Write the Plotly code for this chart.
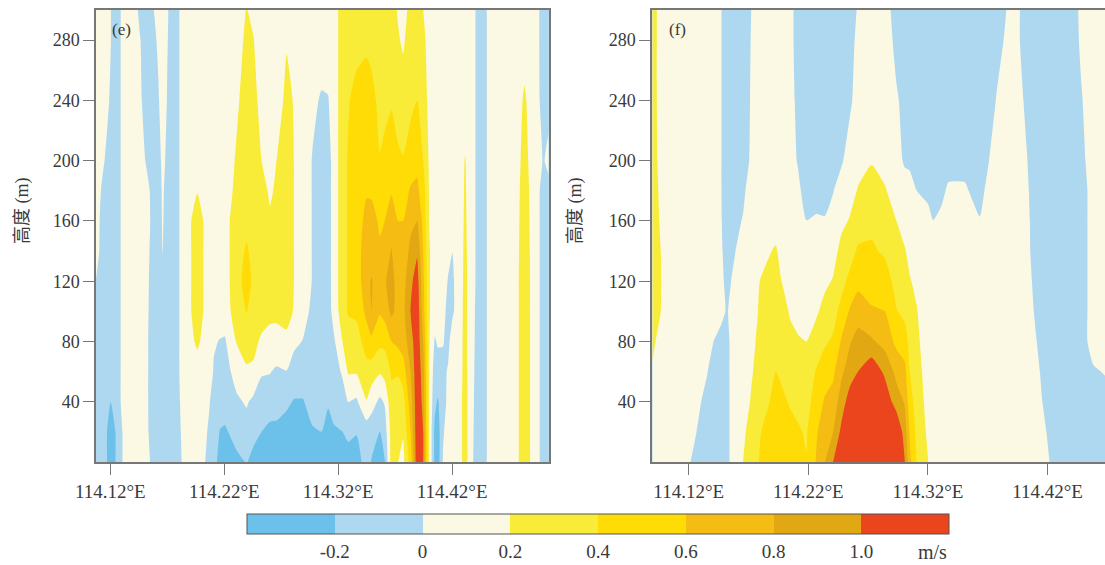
import plotly.graph_objects as go

heights = [0, 20, 40, 60, 80, 100, 120, 140, 160, 180, 200, 240, 280, 300]

lon_e = [114.1074, 114.1139, 114.1203, 114.1244, 114.1337, 114.1402, 114.1460, 114.1519, 114.1577, 114.1621,
         114.1659, 114.1700, 114.1753, 114.1858, 114.1963, 114.2068, 114.2109, 114.2162, 114.2206, 114.2308,
         114.2396, 114.2454, 114.2528, 114.2601, 114.2659, 114.2747, 114.2811, 114.2893, 114.2975, 114.3054,
         114.3112, 114.3162, 114.3238, 114.3288, 114.3361, 114.3449, 114.3492, 114.3566, 114.3609, 114.3668,
         114.3726, 114.3770, 114.3835, 114.3893, 114.3946, 114.3998, 114.4048, 114.4074, 114.4121, 114.4165,
         114.4203, 114.4261, 114.4314, 114.4367, 114.4443, 114.4566, 114.4735, 114.4835, 114.4934, 114.5004, 114.5051]

# one list per longitude, bottom to top
w_e = [
 [-.1,-.1,-.1,-.1,-.1,-.08,-.005,.08,.1,.1,.1,.1,.1,.1],
 [-.1,-.1,-.1,-.1,-.1,-.1,-.1,-.1,-.1,-.05,.02,.08,.1,.1],
 [-.3,-.3,-.2,-.1,-.1,-.1,-.1,-.1,-.1,-.1,-.1,-.02,.005,.005],
 [-.2,-.2,-.1,-.1,-.1,-.1,-.1,-.1,-.1,-.1,-.1,-.1,-.1,-.1],
 [.1,.1,.1,.1,.1,.1,.1,.1,.1,.1,.1,.1,.1,.1],
 [.1,.1,.1,.1,.1,.1,.1,.1,.1,.1,.1,.1,.1,.1],
 [.08,.08,.08,.08,.08,.08,.08,.08,.08,.08,.08,.04,.01,-.05],
 [.05,.04,.03,.03,.03,.04,.05,.06,.06,.05,-.02,-.1,-.1,-.1],
 [-.05,-.1,-.1,-.1,-.1,-.1,-.1,-.08,-.05,-.06,-.08,-.1,-.05,-.01],
 [-.1,-.1,-.1,-.1,-.1,-.1,-.1,-.1,-.1,-.1,-.1,-.02,.03,.08],
 [-.1,-.1,-.1,-.1,-.1,-.1,-.05,.005,.02,.03,.06,.1,.1,.1],
 [-.1,-.1,-.1,-.1,-.1,-.1,-.1,-.1,-.1,-.08,-.05,-.01,.01,.02],
 [-.1,-.1,-.1,-.1,-.1,-.1,-.1,-.1,-.1,-.1,-.1,-.1,-.1,-.1],
 [.045,.06,.08,.1,.1,.1,.1,.1,.1,.1,.1,.1,.1,.1],
 [.1,.1,.1,.12,.23,.3,.3,.3,.3,.19,.12,.1,.1,.1],
 [-.05,-.02,.01,.1,.1,.1,.1,.1,.1,.1,.1,.1,.1,.1],
 [-.15,-.1,-.05,-.02,.02,.1,.1,.1,.1,.1,.1,.1,.1,.1],
 [-.25,-.21,-.1,-.08,-.01,.1,.1,.1,.1,.1,.1,.1,.1,.1],
 [-.3,-.23,-.1,-.07,-.02,.1,.13,.13,.13,.1,.1,.1,.1,.1],
 [-.25,-.12,-.03,.07,.21,.3,.3,.3,.3,.25,.22,.17,.12,.1],
 [-.19,-.08,.02,.18,.26,.41,.5,.43,.33,.3,.3,.28,.24,.21],
 [-.25,-.15,-.04,.17,.25,.3,.36,.33,.28,.3,.3,.25,.21,.15],
 [-.3,-.2,-.1,.02,.17,.28,.3,.28,.27,.25,.2,.15,.1,.1],
 [-.3,-.24,-.12,.01,.16,.23,.27,.26,.22,.18,.12,.1,.1,.1],
 [-.3,-.23,-.15,-.03,.14,.24,.27,.27,.25,.22,.2,.1,.1,.1],
 [-.3,-.27,-.17,-.005,.16,.26,.3,.3,.3,.28,.28,.25,.185,.1],
 [-.3,-.27,-.21,-.1,.05,.19,.2,.2,.2,.2,.2,.19,.1,.1],
 [-.3,-.28,-.21,-.1,-.01,.08,.1,.1,.1,.1,.1,.1,.1,.1],
 [-.27,-.22,-.12,-.1,-.1,-.05,-.01,-.01,-.01,-.01,-.01,.04,.1,.1],
 [-.3,-.2,-.12,-.1,-.1,-.1,-.1,-.1,-.1,-.1,-.1,-.02,.1,.1],
 [-.3,-.27,-.18,-.1,-.1,-.1,-.1,-.1,-.1,-.1,-.1,-.01,.1,.1],
 [-.3,-.22,-.14,-.1,-.03,.08,.1,.1,.1,.1,.1,.1,.1,.1],
 [-.3,-.2,-.1,.03,.2,.3,.3,.3,.3,.3,.3,.3,.3,.3],
 [-.3,-.15,0.005,.22,.3,.42,.42,.42,.42,.42,.42,.38,.35,.33],
 [-.28,-.19,-.03,.22,.3,.45,.5,.5,.5,.5,.5,.48,.32,.3],
 [-.12,-.12,.19,.32,.5,.65,.72,.72,.66,.58,.52,.5,.36,.3],
 [-.21,-.12,.08,.3,.55,.8,.82,.7,.65,.58,.52,.48,.32,.3],
 [-.3,-.2,-.04,.22,.45,.62,.65,.62,.58,.45,.41,.33,.3,.3],
 [-.21,-.1,.02,.28,.45,.68,.78,.7,.6,.55,.45,.35,.3,.3],
 [.3,.28,.35,.42,.6,.85,.88,.81,.72,.58,.5,.38,.3,.28],
 [.2,.25,.3,.42,.65,.72,.7,.65,.6,.52,.44,.3,.22,.18],
 [.14,.22,.32,.5,.7,.75,.72,.66,.6,.52,.41,.3,.17,.1],
 [.5,.6,.7,.8,.9,1.0,.95,.85,.75,.62,.5,.35,.3,.28],
 [1.15,1.15,1.15,1.15,1.15,1.15,1.1,.97,.8,.64,.55,.4,.35,.32],
 [1.0,1.0,.95,.9,.8,.7,.65,.6,.55,.5,.4,.3,.25,.2],
 [.2,.2,.2,.21,.22,.22,.22,.22,.2,.19,.18,.15,.12,.1],
 [-.25,-.25,-.15,-.1,-.02,.1,.1,.1,.1,.1,.1,.1,.1,.1],
 [-.3,-.3,-.22,-.08,.02,.08,.1,.1,.1,.1,.1,.1,.1,.1],
 [.02,-.02,-.08,-.05,.01,.05,.07,.1,.1,.1,.1,.1,.1,.1],
 [.1,.08,.05,.02,-.05,-.05,-.01,.05,.1,.1,.1,.1,.1,.1],
 [.1,.1,.1,.1,.1,-.03,-.03,.002,.1,.1,.1,.1,.1,.1],
 [.1,.1,.1,.1,.1,.1,.1,.1,.1,.1,.1,.1,.1,.1],
 [.3,.3,.3,.28,.27,.26,.25,.24,.23,.22,.21,.1,.1,.1],
 [.03,.04,.05,.06,.07,.08,.1,.1,.1,.1,.1,.1,.1,.1],
 [-.1,-.1,-.1,-.1,-.1,-.1,-.1,-.1,-.1,-.1,-.1,-.1,-.1,-.1],
 [.1,.1,.1,.1,.1,.1,.1,.1,.1,.1,.1,.1,.1,.1],
 [.1,.1,.1,.1,.1,.1,.1,.1,.1,.1,.1,.1,.1,.1],
 [.3,.3,.3,.3,.3,.3,.3,.29,.28,.27,.25,.22,.14,.1],
 [.1,.1,.1,.1,.1,.1,.1,.1,.1,.1,.1,.1,.08,.08],
 [-.1,-.1,-.1,-.1,-.1,-.1,-.1,-.1,-.1,-.1,-.02,-.1,-.1,-.1],
 [-.1,-.1,-.1,-.1,-.1,-.1,-.1,-.1,-.1,-.1,.1,-.1,-.1,-.1],
]

lon_f = [114.0896, 114.0971, 114.1069, 114.1194, 114.1264, 114.1353, 114.1417, 114.1473, 114.1518, 114.1585, 114.1654,
         114.1724, 114.1794, 114.1928, 114.1989, 114.2045, 114.2115, 114.2184, 114.2268, 114.2338, 114.2407,
         114.2477, 114.2547, 114.2616, 114.2728, 114.2839, 114.2937, 114.3007, 114.3048, 114.3104, 114.3202,
         114.3244, 114.3313, 114.3369, 114.3509, 114.3634, 114.3704, 114.3773, 114.3857, 114.3913, 114.4024,
         114.4108, 114.4192, 114.4275, 114.4387, 114.4484, 114.4582, 114.4688]

w_f = [
 [.1,.1,.12,.18,.24,.35,.35,.35,.3,.3,.3,.3,.3,.3],
 [.1,.1,.1,.1,.13,.19,.2,.19,.17,.15,.12,.1,.1,.1],
 [.1,.1,.1,.1,.1,.1,.1,.1,.1,.1,.1,.1,.1,.1],
 [.03,.1,.1,.1,.1,.1,.1,.1,.1,.1,.1,.1,.1,.1],
 [-.07,0.002,.05,.07,.09,.1,.1,.1,.1,.1,.1,.1,.1,.1],
 [-.1,-.1,-.06,.01,.06,.1,.1,.1,.1,.1,.1,.1,.1,.1],
 [-.1,-.1,-.1,-.1,-.01,.1,.1,.1,.1,.1,.1,.1,.1,.1],
 [-.1,-.1,-.1,-.1,-.08,.06,.05,.03,.01,.002,.002,.002,.002,.002],
 [-.05,-.05,-.05,-.05,-.05,-.02,-.06,-.1,-.1,-.1,-.1,-.1,-.1,-.1],
 [.1,.1,.1,.1,.1,.1,.05,-.01,-.05,-.08,-.1,-.1,-.1,-.1],
 [.2,.15,.1,.1,.1,.1,.1,.1,.0125,-.04,-.08,-.1,-.1,-.1],
 [.32,.3,.22,.18,.15,.12,.1,.1,.1,.1,.03,.02,.01,.002],
 [.41,.39,.32,.28,.25,.22,.2,.14,.1,.1,.1,.1,.1,.1],
 [.55,.5,.45,.4,.35,.32,.27,.22,.12,.1,.1,.1,.1,.1],
 [.52,.47,.42,.37,.33,.28,.18,.12,.1,.1,.1,.1,.1,.1],
 [.5,.44,.39,.31,.26,.18,.12,.1,.1,.1,.1,.1,.08,.08],
 [.47,.42,.35,.27,.22,.13,.1,.1,.1,.05,-.02,-.07,-.1,-.1],
 [.41,.38,.32,.26,.2,.14,.1,.1,.002,-.1,-.1,-.1,-.1,-.1],
 [.62,.58,.5,.42,.27,.18,.12,.1,.03,-.1,-.1,-.1,-.1,-.1],
 [.8,.72,.62,.52,.37,.25,.17,.13,.02,-.1,-.1,-.1,-.1,-.1],
 [1.0,.8,.68,.56,.43,.32,.21,.15,.1,-.01,-.1,-.1,-.1,-.1],
 [1.2,1.05,.9,.76,.62,.47,.33,.24,.17,.12,-.03,-.08,-.1,-.1],
 [1.3,1.2,1.1,.9,.78,.62,.46,.31,.21,.15,.11,-.04,-.08,-.09],
 [1.3,1.3,1.2,1.0,.88,.7,.55,.43,.29,.21,.15,.1,.06,.02],
 [1.4,1.35,1.25,1.15,.83,.62,.52,.43,.35,.26,.19,.1,.1,.1],
 [1.3,1.25,1.15,.96,.73,.6,.5,.37,.3,.21,.16,.1,.1,.1],
 [1.25,1.2,.9,.74,.55,.41,.33,.28,.2,.15,.08,.02,-.05,-.1],
 [1.0,.9,.78,.65,.5,.34,.27,.21,.14,.1,-.03,-.05,-.1,-.1],
 [.65,.58,.48,.4,.33,.26,.21,.16,.12,.08,-.04,-.1,-.1,-.1],
 [.4,.36,.32,.28,.24,.21,.17,.13,.1,.002,-.1,-.1,-.1,-.1],
 [.2,.16,.13,.11,.1,.1,.1,.1,.1,-.08,-.1,-.1,-.1,-.1],
 [.1,.1,.1,.1,.1,.1,.1,.1,.002,-.1,-.1,-.1,-.1,-.1],
 [.1,.1,.1,.1,.1,.1,.1,.1,.03,-.03,-.1,-.1,-.1,-.1],
 [.1,.1,.1,.1,.1,.1,.1,.1,.1,.02,-.05,-.1,-.1,-.1],
 [.1,.1,.1,.1,.1,.1,.1,.1,.1,.02,-.05,-.1,-.1,-.1],
 [.1,.1,.1,.1,.1,.1,.1,.1,.01,-.06,-.1,-.1,-.1,-.1],
 [.1,.1,.1,.1,.1,.1,.1,.1,.1,.05,-.01,-.1,-.1,-.1],
 [.1,.1,.1,.1,.1,.1,.1,.1,.1,.1,.1,.01,-.07,-.1],
 [.1,.1,.1,.1,.1,.1,.1,.1,.1,.1,.1,.1,.03,.002],
 [.1,.1,.1,.1,.1,.1,.1,.1,.1,.1,.1,.1,.1,.1],
 [.1,.1,.1,.1,.09,.08,.07,.06,.05,.03,.01,-.03,-.1,-.1],
 [.1,.09,.07,.05,.002,-.03,-.06,-.1,-.1,-.1,-.1,-.1,-.1,-.1],
 [.04,-.002,-.05,-.1,-.1,-.1,-.1,-.1,-.1,-.1,-.1,-.1,-.1,-.1],
 [-.1,-.1,-.1,-.1,-.1,-.1,-.1,-.1,-.1,-.1,-.1,-.1,-.1,-.1],
 [-.1,-.1,-.1,-.1,-.1,-.1,-.1,-.1,-.1,-.1,-.1,-.1,-.1,-.1],
 [-.1,-.1,-.1,-.1,-.1,-.1,-.1,-.1,-.1,-.1,-.05,-.01,.03,.04],
 [-.1,-.1,-.1,-.03,.1,.1,.1,.1,.1,.1,.1,.1,.1,.1],
 [-.1,-.1,-.1,.02,.1,.1,.1,.1,.1,.1,.1,.1,.1,.1],
]

band_colors = ["#6CC1EA", "#AED7F0", "#FBF8E3", "#F8EC38", "#FFDC05", "#F5BD14", "#E2A814", "#EA451C"]
tick_values = [-0.2, 0, 0.2, 0.4, 0.6, 0.8, 1.0]
tick_labels = ["-0.2", "0", "0.2", "0.4", "0.6", "0.8", "1.0"]
lon_ticks = [114.12, 114.22, 114.32, 114.42]
lon_labels = ["114.12°E", "114.22°E", "114.32°E", "114.42°E"]
height_ticks = [40, 80, 120, 160, 200, 240, 280]

W, H = 1105, 565
n = len(band_colors)
scale = []
for i, c in enumerate(band_colors):
    scale += [[i / n, c], [(i + 1) / n, c]]

FONT = "Liberation Serif, Noto Sans CJK SC, serif"
TEXT = "#3a3a3a"


def rows(columns):
    return [list(r) for r in zip(*columns)]


fig = go.Figure()
common = dict(y=heights, zmin=-0.4, zmax=1.2, zauto=False, colorscale=scale, hoverinfo="skip",
              contours=dict(start=-0.2, end=1.0, size=0.2, coloring="fill", showlines=False),
              line=dict(width=0, smoothing=0.5))
fig.add_trace(go.Contour(
    x=lon_e, z=rows(w_e), xaxis="x", yaxis="y", showscale=True,
    colorbar=dict(orientation="h", x=247 / W, xanchor="left", y=1 - 514 / H, yanchor="top",
                  len=702, lenmode="pixels", thickness=20, thicknessmode="pixels",
                  xpad=0, ypad=0, outlinecolor="#555", outlinewidth=1,
                  tickmode="array", tickvals=tick_values, ticktext=tick_labels, ticks="", ticklen=0,
                  tickfont=dict(family=FONT, size=19, color=TEXT)),
    **common))
fig.add_trace(go.Contour(x=lon_f, z=rows(w_f), xaxis="x2", yaxis="y2", showscale=False, **common))

axis_common = dict(showgrid=False, zeroline=False, showline=True, mirror=True, linecolor="#777", linewidth=1.5,
                   ticks="outside", ticklen=11, tickwidth=1.2, tickcolor="#777")
x_font = dict(family=FONT, size=19, color=TEXT)
y_font = dict(family=FONT, size=18, color=TEXT)
y_top = 1 - 10 / H
y_bot = 1 - 462 / H
label_font = dict(family=FONT, size=17, color=TEXT)
fig.update_layout(
    width=W, height=H, margin=dict(l=0, r=0, t=0, b=0, autoexpand=False),
    paper_bgcolor="white", plot_bgcolor="white", showlegend=False,
    xaxis=dict(domain=[96 / W, 548.5 / W], range=[114.1074, 114.5046], tickvals=lon_ticks, ticktext=lon_labels, anchor="y", tickfont=x_font, **axis_common),
    yaxis=dict(domain=[y_bot, y_top], range=[0, 300], tickvals=height_ticks, anchor="x", tickfont=y_font, **axis_common),
    xaxis2=dict(domain=[652 / W, 1], range=[114.0893, 114.4680], tickvals=lon_ticks, ticktext=lon_labels, anchor="y2", tickfont=x_font, **axis_common),
    yaxis2=dict(domain=[y_bot, y_top], range=[0, 300], tickvals=height_ticks, anchor="x2", tickfont=y_font, **axis_common),
    annotations=[
        dict(text="(e)", xref="paper", yref="paper", x=110 / W, y=1 - 30 / H, xanchor="left", yanchor="middle",
             showarrow=False, font=label_font),
        dict(text="(f)", xref="paper", yref="paper", x=667 / W, y=1 - 29 / H, xanchor="left", yanchor="middle",
             showarrow=False, font=label_font),
        dict(text="高度 (m)", xref="paper", yref="paper", x=22 / W, y=1 - 211 / H, textangle=-90,
             xanchor="center", yanchor="middle", showarrow=False, font=dict(family=FONT, size=18, color=TEXT)),
        dict(text="高度 (m)", xref="paper", yref="paper", x=575 / W, y=1 - 211 / H, textangle=-90,
             xanchor="center", yanchor="middle", showarrow=False, font=dict(family=FONT, size=18, color=TEXT)),
        dict(text="m/s", xref="paper", yref="paper", x=932 / W, y=1 - 552 / H, xanchor="center", yanchor="middle",
             showarrow=False, font=dict(family=FONT, size=20, color=TEXT)),
    ],
)
fig.write_html("out.html", config={"displayModeBar": False},
               post_script="document.body.style.margin='0';document.documentElement.style.overflow='hidden';")
